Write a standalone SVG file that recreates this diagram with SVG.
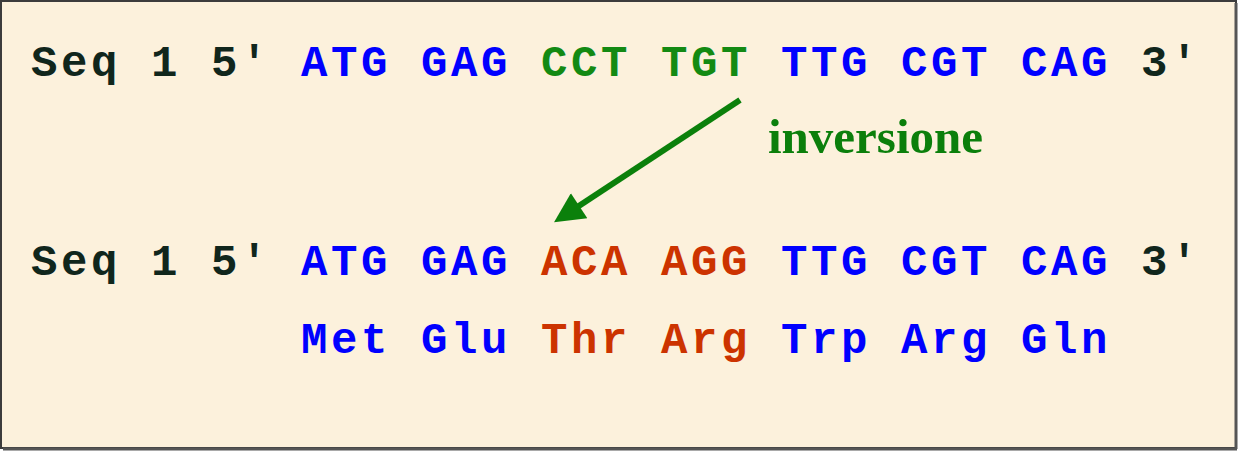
<svg xmlns="http://www.w3.org/2000/svg" width="1238" height="451" viewBox="0 0 1238 451">
<defs>
<style>
.m{font-family:"Liberation Mono","Courier New",monospace;font-weight:bold;font-size:44px;letter-spacing:3.6px}
.k{fill:#10261c}
.b{fill:#0000ff}
.g{fill:#138a13}
.r{fill:#cc3300}
.lbl{font-family:"Liberation Serif","Times New Roman",serif;font-weight:bold;font-size:49px;fill:#0b7f0b}
</style>
<marker id="ah" viewBox="0 0 10 10" refX="3.75" refY="5" markerWidth="32" markerHeight="30" markerUnits="userSpaceOnUse" orient="auto">
<path d="M0,0 L10,5 L0,10 z" fill="#0b800b"/>
</marker>
</defs>
<rect x="1" y="1" width="1235" height="447" fill="#fcf1dc" stroke="#3c3c3c" stroke-width="2"/>
<line x1="1236" y1="3" x2="1236" y2="449" stroke="#555" stroke-width="3"/>
<line x1="3" y1="449" x2="1237" y2="449" stroke="#555" stroke-width="3"/>
<g id="seq-original" class="m">
<text x="31" y="76" class="k">Seq 1 5′</text>
<text x="301" y="76" class="b">ATG</text>
<text x="421" y="76" class="b">GAG</text>
<text x="541" y="76" class="g">CCT</text>
<text x="661" y="76" class="g">TGT</text>
<text x="781" y="76" class="b">TTG</text>
<text x="901" y="76" class="b">CGT</text>
<text x="1021" y="76" class="b">CAG</text>
<text x="1141" y="76" class="k">3′</text>
</g>
<g id="label-inversione">
<text x="768" y="153" class="lbl">inversione</text>
</g>
<g id="seq-inverted" class="m">
<text x="31" y="275" class="k">Seq 1 5′</text>
<text x="301" y="275" class="b">ATG</text>
<text x="421" y="275" class="b">GAG</text>
<text x="541" y="275" class="r">ACA</text>
<text x="661" y="275" class="r">AGG</text>
<text x="781" y="275" class="b">TTG</text>
<text x="901" y="275" class="b">CGT</text>
<text x="1021" y="275" class="b">CAG</text>
<text x="1141" y="275" class="k">3′</text>
</g>
<g id="protein" class="m">
<text x="301" y="353" class="b">Met</text>
<text x="421" y="353" class="b">Glu</text>
<text x="541" y="353" class="r">Thr</text>
<text x="661" y="353" class="r">Arg</text>
<text x="781" y="353" class="b">Trp</text>
<text x="901" y="353" class="b">Arg</text>
<text x="1021" y="353" class="b">Gln</text>
</g>
<g id="connectors">
<line x1="740" y1="100" x2="569.7" y2="212" stroke="#0b800b" stroke-width="6" marker-end="url(#ah)"/>
</g>
</svg>
